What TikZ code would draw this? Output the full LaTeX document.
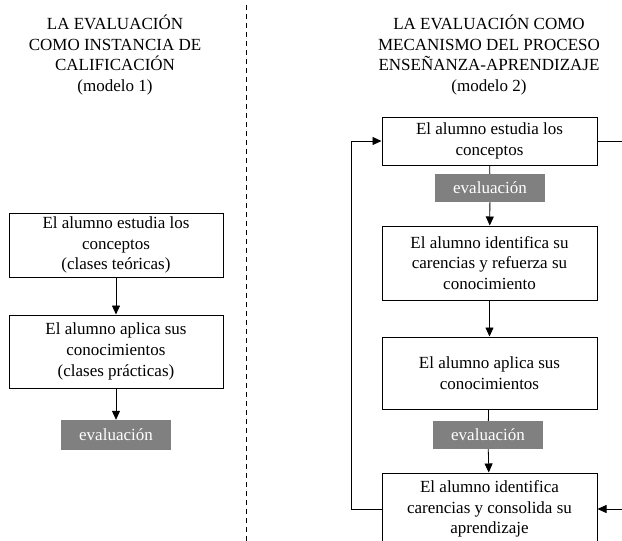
\documentclass[tikz,border=0pt]{standalone}
\usepackage{fontspec}
\setmainfont{Liberation Serif}
\usetikzlibrary{arrows.meta}

\tikzstyle{box} = [rectangle,draw,line width=1pt,align=center,minimum width=215pt,inner sep=0pt]
\tikzstyle{evalbox} = [rectangle,fill=black!50,text=white,minimum width=110pt,minimum height=28pt,inner sep=0pt]
\tikzstyle{title} = [align=center]
\tikzstyle{edge} = [-{Triangle[width=8pt,length=9pt]},line width=.8pt]
\tikzstyle{line} = [line width=.8pt]

\begin{document}
\begin{tikzpicture}[x=1pt,y=-1pt,font=\fontsize{17}{20.7}\selectfont]
\useasboundingbox (0,0) rectangle (622,541);

% titles
\node[title] (t1) at (115,55) {LA EVALUACIÓN\\COMO INSTANCIA DE\\CALIFICACIÓN\\(modelo 1)};
\node[title] (t2) at (489,55) {LA EVALUACIÓN COMO\\MECANISMO DEL PROCESO\\ENSEÑANZA-APRENDIZAJE\\(modelo 2)};

% separator
\coordinate (s1) at (246,5);
\coordinate (s2) at (246,545);
\draw[line width=.9pt,dash pattern=on 5pt off 4pt] (s1) -- (s2);

% modelo 1
\node[box,minimum height=64pt,minimum width=214pt] (l1) at (116,245) {El alumno estudia los\\conceptos\\(clases teóricas)};
\node[box,minimum height=73pt,minimum width=214pt] (l2) at (116,351.5) {El alumno aplica sus\\conocimientos\\(clases prácticas)};
\node[evalbox,minimum height=30pt] (le) at (116,435) {evaluación};

\draw[edge] (l1) -- (l2);
\draw[edge] (l2) -- (le);

% modelo 2
\node[box,minimum height=48pt] (r1) at (489.5,141) {El alumno estudia los\\conceptos};
\node[evalbox] (re1) at (490,188) {evaluación};
\node[box,minimum height=74pt] (r2) at (489.5,263) {El alumno identifica su\\carencias y refuerza su\\conocimiento};
\node[box,minimum height=72pt] (r3) at (489.5,373) {El alumno aplica sus\\conocimientos};
\node[evalbox] (re2) at (488,435) {evaluación};
\node[box,minimum height=72pt] (r4) at (489.5,509) {El alumno identifica\\carencias y consolida su\\aprendizaje};

\draw[line] (r1) -- (re1);
\draw[edge] (re1) -- (r2);
\draw[edge] (r2) -- (r3);
\draw[line] (r3) -- (re2);
\draw[edge] (re2) -- (r4);

% loops
\draw[edge] (r4.west) -- ++(-30,0) |- (r1.west);
\coordinate (rout) at (624,141);
\coordinate (rin) at (624,509);
\draw[line] (r1.east) -- (rout);
\draw[edge] (rin) -- (r4.east);

\end{tikzpicture}
\end{document}
